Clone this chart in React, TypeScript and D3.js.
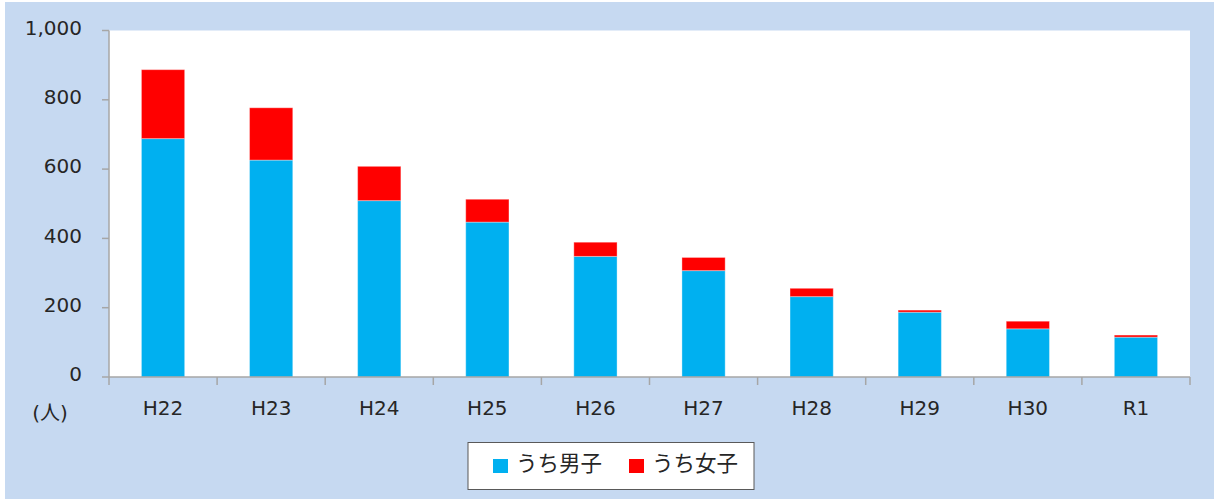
import React from "react";
import * as d3 from "d3";

const categories = ["H22", "H23", "H24", "H25", "H26", "H27", "H28", "H29", "H30", "R1"];
const boys = [688, 626, 509, 447, 348, 307, 232, 187, 139, 115];
const girls = [199, 151, 99, 66, 41, 38, 24, 6, 22, 6];
const yTicks = [0, 200, 400, 600, 800, 1000];
const seriesNames = ["うち男子", "うち女子"];
const colors = ["#00B0F0", "#FF0000"];

const W = 1216;
const H = 501;
const FONT = "'DejaVu Sans', 'Noto Sans CJK JP', sans-serif";
const JFONT = "'Noto Sans CJK JP', sans-serif";

export default function App() {
  const plot = { left: 109, right: 1190, top: 30.5, bottom: 377 };
  const x = d3.scaleBand<string>().domain(categories).range([plot.left, plot.right]).paddingInner(0.6).paddingOuter(0.3);
  const band = d3.scaleBand<string>().domain(categories).range([plot.left, plot.right]);
  const y = d3.scaleLinear().domain([0, 1000]).range([plot.bottom, plot.top]);
  const rows = categories.map((c, i) => ({ cat: c, boys: boys[i], girls: girls[i] }));
  const stacked = d3.stack<any>().keys(["boys", "girls"])(rows);
  const fmt = d3.format(",");
  const axisColor = "#A6A6A6";
  const textColor = "#262626";

  return (
    <div style={{ position: "absolute", left: 0, top: 0 }}>
      <svg width={W} height={H} style={{ display: "block" }}>
        <rect x={0} y={0} width={W} height={H} fill="#ffffff" />
        <rect x={5} y={2} width={W - 7} height={H - 4} fill="#C6D9F1" />
        <rect x={plot.left} y={plot.top} width={plot.right - plot.left} height={plot.bottom - plot.top} fill="#ffffff" />
        {stacked.map((s, si) =>
          s.map((d, i) => (
            <rect
              key={`${si}-${i}`}
              x={x(categories[i])}
              y={y(d[1])}
              width={x.bandwidth()}
              height={y(d[0]) - y(d[1])}
              fill={colors[si]}
              stroke="rgba(255,255,255,0.35)"
              strokeWidth={1}
            />
          ))
        )}
        <line x1={plot.left} x2={plot.left} y1={plot.top} y2={plot.bottom} stroke={axisColor} strokeWidth={1.5} />
        {yTicks.map((t) => (
          <g key={t}>
            <line x1={plot.left - 7} x2={plot.left} y1={y(t)} y2={y(t)} stroke={axisColor} strokeWidth={1.5} />
            <text x={82} y={y(t) - 3} dy="0.36em" textAnchor="end" fontSize={20} fontFamily={FONT} fill={textColor}>
              {fmt(t)}
            </text>
          </g>
        ))}
        <line x1={plot.left} x2={plot.right} y1={plot.bottom} y2={plot.bottom} stroke={axisColor} strokeWidth={1.5} />
        {categories.map((c) => (
          <line key={"t" + c} x1={band(c)!} x2={band(c)!} y1={plot.bottom} y2={plot.bottom + 8} stroke={axisColor} strokeWidth={1.5} />
        ))}
        <line x1={plot.right} x2={plot.right} y1={plot.bottom} y2={plot.bottom + 8} stroke={axisColor} strokeWidth={1.5} />
        {categories.map((c) => (
          <text key={"l" + c} x={band(c)! + band.bandwidth() / 2} y={408} dy="0.36em" textAnchor="middle" fontSize={20} fontFamily={FONT} fill={textColor}>
            {c}
          </text>
        ))}
        <text x={50} y={413} dy="0.36em" textAnchor="middle" fontSize={20} fontFamily={FONT} fill={textColor}>
          (人)
        </text>
        <rect x={468} y={442.5} width={286} height={47} fill="#ffffff" stroke="#595959" strokeWidth={1} />
        {seriesNames.map((n, i) => (
          <g key={n} transform={`translate(${i === 0 ? 493 : 629},0)`}>
            <rect x={0} y={459} width={15} height={14} fill={colors[i]} />
            <text x={23} y={463} dy="0.36em" fontSize={21.5} fontFamily={JFONT} fill={textColor}>
              {n}
            </text>
          </g>
        ))}
      </svg>
    </div>
  );
}
